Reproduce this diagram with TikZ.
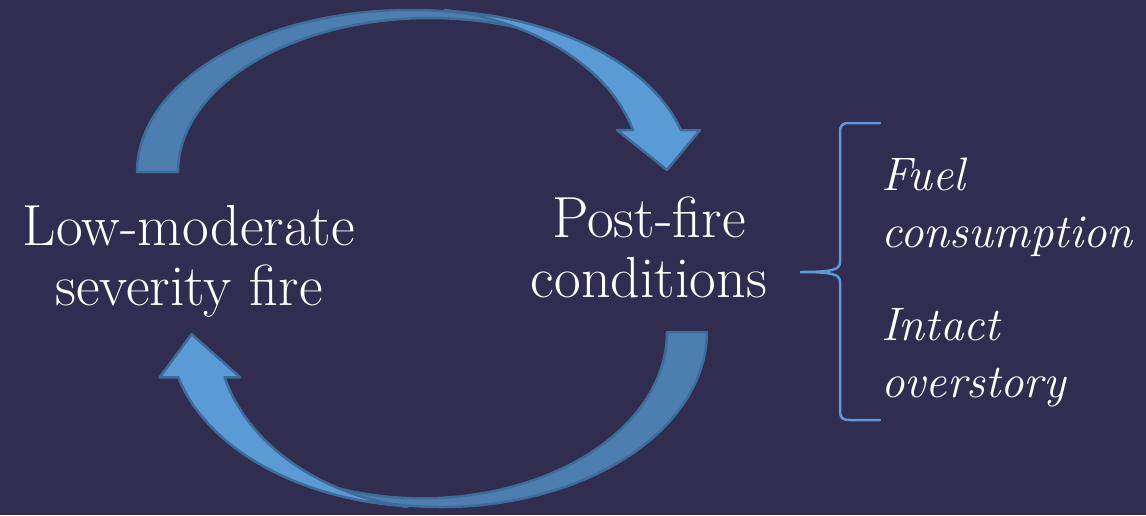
\documentclass[tikz,border=0pt]{standalone}
\usepackage{fontspec}
\usepackage{tikz}
\usetikzlibrary{calc}

\definecolor{bgnavy}{RGB}{48,45,80}
\definecolor{arrowlight}{RGB}{91,155,213}
\definecolor{arrowdark}{RGB}{76,127,176}
\definecolor{arrowedge}{RGB}{62,108,152}

\tikzset{
  bigtext/.style={text=white, align=center, inner sep=0pt,
    font=\fontsize{58}{60}\selectfont},
  listtext/.style={text=white, align=left, inner sep=0pt, anchor=west,
    font=\fontsize{47}{57}\selectfont\itshape},
  backband/.style={fill=arrowdark, draw=arrowedge, line width=2.5pt, line join=round},
  frontband/.style={fill=arrowlight, draw=arrowedge, line width=2.5pt, line join=round},
  bracket/.style={draw=arrowlight, line width=2.5pt, line cap=round}
}

% one bent arrow: dark tail band, light band with the head on top
\newcommand{\bentarrow}{%
  \path[backband] (137,172)
    arc[start angle=180, end angle=290, x radius=273, y radius=162]
    -- ($(430,172)+(290:252 and 154)$)
    arc[start angle=290, end angle=180, x radius=252, y radius=154] -- cycle;
  \path[frontband] ($(420,172)+(275.3:270 and 162)$)
    arc[start angle=275.3, end angle=345, x radius=270, y radius=162]
    -- (700,130) -- (667,170) -- (617,130)
    -- ($(400,172)+(345.3:241 and 165)$)
    arc[start angle=345.3, end angle=280.8, x radius=241, y radius=165] -- cycle;
}

\begin{document}
\begin{tikzpicture}[x=1pt, y=-1pt]
  \useasboundingbox (0,0) rectangle (1146,515);
  \fill[bgnavy] (0,0) rectangle (1146,515);

  \bentarrow
  \begin{scope}[shift={(840,517.8)}, xscale=-0.972, yscale=-1.08]
    \bentarrow
  \end{scope}

  \node[bigtext] (fire) at (189,261) {Low-moderate\\severity fire};
  \node[bigtext] (post) at (649,247) {Post-fire\\conditions};

  \node[listtext] (fuel) at (881,207) {Fuel\\consumption};
  \node[listtext] (intact) at (881,358) {Intact\\overstory};

  \coordinate (bracetip) at (800,272);
  \draw[bracket] (880,123) -- (850,123) .. controls (842,123) and (840,125) .. (840,133)
    -- (840,262) .. controls (840,270) and (832,272) .. (bracetip)
    .. controls (832,272) and (840,274) .. (840,282)
    -- (840,410) .. controls (840,418) and (842,420) .. (850,420) -- (880,420);
\end{tikzpicture}
\end{document}
